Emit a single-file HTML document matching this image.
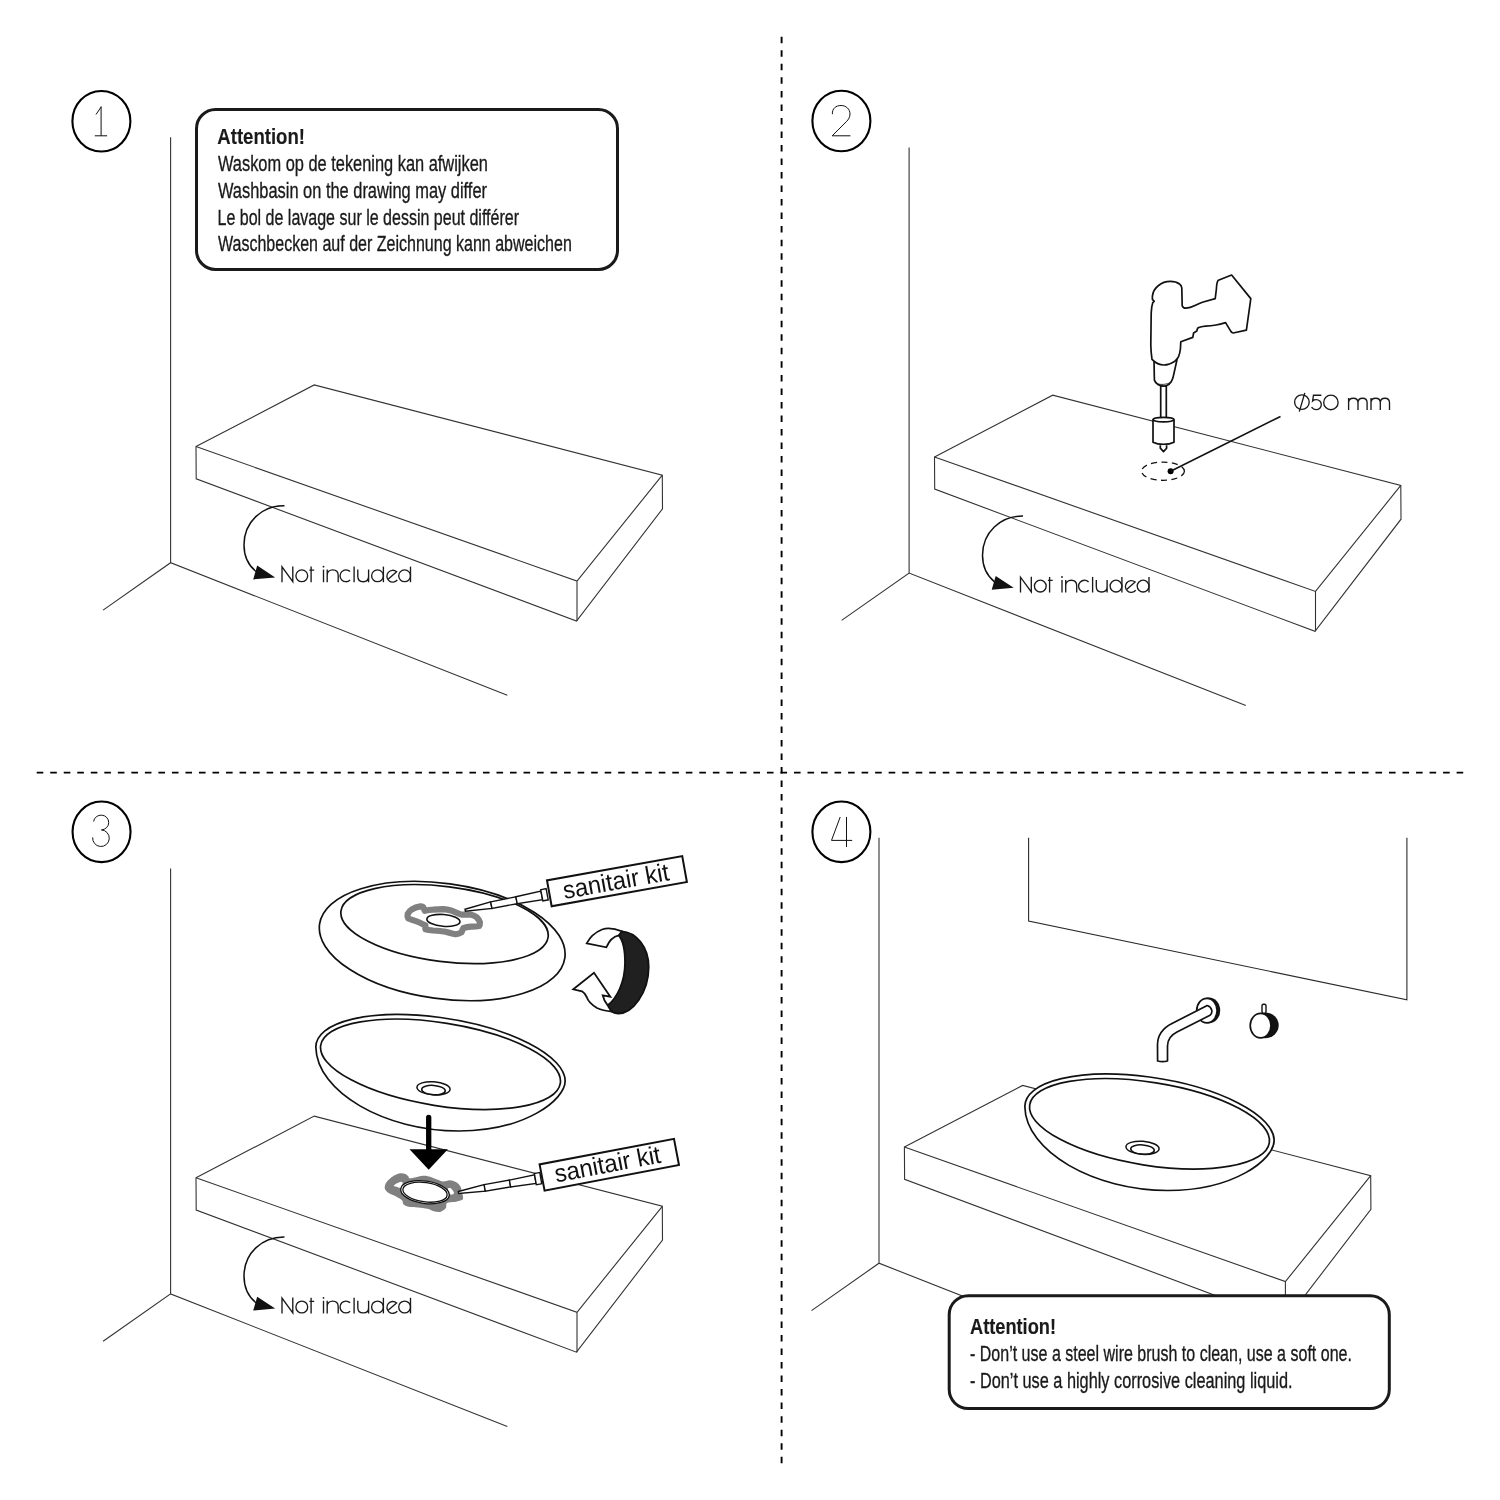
<!DOCTYPE html>
<html><head><meta charset="utf-8">
<style>
html,body{margin:0;padding:0;background:#fff;}
body{width:1500px;height:1500px;overflow:hidden;}
svg{display:block;filter:grayscale(1);}
text{font-family:"Liberation Sans",sans-serif;}
</style></head>
<body>
<svg width="1500" height="1500" viewBox="0 0 1500 1500">
<defs>
 <g id="base" fill="none" stroke="#333" stroke-width="1.1">
  <path d="M170.6,137.3V562.7M103.1,610.1L170.6,562.7L507.3,695.2"/>
  <path fill="#fff" d="M196,446.6L314.2,384.9L662.3,475.1L662.5,508.9L576.5,621L196.2,478.8Z"/>
  <path d="M196,446.6L577,581.1L662.3,475.1M577,581.1V621"/>
 </g>
 <g id="ni">
  <path d="M284.5,505.8C262,505.5 244,522 244,545C244,556 248,565 256,571.5" fill="none" stroke="#111" stroke-width="1.5"/>
  <path d="M257.2,565.6L253.2,579.4L275.2,577.4Z" fill="#111"/>
  <g fill="none" stroke="#1a1a1a" stroke-width="1.35">
   <path d="M282,582.2V566.9L292.8,581.7V566.4"/>
   <circle cx="301.8" cy="575.8" r="5.9"/>
   <path d="M311.1,566.6V582.2M309.4,570.1H314.2"/>
   <path d="M323.5,569.6V582.2"/>
   <path d="M327.2,582.2V569.6M327.2,575.3C327.2,572 329.6,569.9 332.7,569.9C335.9,569.9 338.2,572 338.2,575.5V582.2"/>
   <path d="M350.1,571.6A5.9,5.9 0 1 0 350.1,580"/>
   <path d="M354.1,566.6V582.2"/>
   <path d="M357.8,569.6V576.2C357.8,579.5 360,581.7 363.2,581.7C366.5,581.7 368.6,579.5 368.6,576.2M368.6,569.6V582.2"/>
   <circle cx="377.5" cy="575.8" r="5.9"/>
   <path d="M383.4,566.6V582.2"/>
   <path d="M388.4,578.9L396.6,571.7A5.9,5.9 0 1 0 397.3,580"/>
   <circle cx="404.6" cy="575.8" r="5.9"/>
   <path d="M410.5,566.6V582.2"/>
  </g>
  <circle cx="323.5" cy="566.7" r="0.9" fill="#1a1a1a"/>
 </g>
 <g id="basin" stroke="#111" stroke-width="1.7">
  <path d="M315.84,1046.95A126,46 9 0 1 565.16,1081.05C565,1100 525,1131 459,1131C385,1131 316.5,1092 315.84,1046.95Z" fill="#fff"/>
  <ellipse cx="440.5" cy="1064.3" rx="121.3" ry="41.5" transform="rotate(9 440.5 1064.3)" fill="none"/>
  <ellipse cx="433.5" cy="1088.3" rx="16.6" ry="6.5" transform="rotate(4 433.5 1088.3)" fill="none" stroke-width="1.5"/>
  <ellipse cx="433.5" cy="1090.1" rx="11.8" ry="4.7" transform="rotate(4 433.5 1090.1)" fill="none" stroke-width="1.5"/>
 </g>
 <g id="nozzle" fill="#fff" stroke="#111" stroke-width="1.4" stroke-linejoin="miter">
  <path d="M0,-1L26.6,-3.3V3.3L0,1Z"/>
  <path d="M26.6,-3.3L52.3,-3.5V3.5L26.6,3.3Z"/>
  <path d="M52.3,-3.5L78,-4.4V4.4L52.3,3.5Z"/>
  <path d="M78,-5.7H83.5V5.7H78Z"/>
 </g>
 <g id="circ" fill="none" stroke="#000" stroke-width="2.1">
  <ellipse cx="0" cy="0" rx="29" ry="30.3"/>
 </g>
</defs>

<!-- dashed separators -->
<g stroke="#000" stroke-width="1.9" fill="none">
 <path d="M781.6,36.8V1463.3" stroke-dasharray="6.5 7.023"/>
 <path d="M36.7,772.6H1463.6" stroke-dasharray="6.6 6.923"/>
</g>

<!-- ================= PANEL 1 ================= -->
<use href="#base"/>
<use href="#ni"/>
<use href="#circ" x="101.4" y="121.25"/>
<path d="M101.1,106.4V135.8M101.1,107L96,114.5M94.8,135.8H107.1" fill="none" stroke="#111" stroke-width="1"/>
<rect x="196.5" y="109.5" width="421" height="160" rx="19" ry="19" fill="#fff" stroke="#1a1a1a" stroke-width="3"/>
<g fill="#1a1a1a" font-size="22.6" stroke="#1a1a1a" stroke-width="0.35">
 <text x="217.3" y="143.8" font-weight="bold" stroke-width="0.15" textLength="87.7" lengthAdjust="spacingAndGlyphs">Attention!</text>
 <text x="218" y="170.8" textLength="269.9" lengthAdjust="spacingAndGlyphs">Waskom op de tekening kan afwijken</text>
 <text x="218" y="197.7" textLength="269" lengthAdjust="spacingAndGlyphs">Washbasin on the drawing may differ</text>
 <text x="217.5" y="224.5" textLength="301.5" lengthAdjust="spacingAndGlyphs">Le bol de lavage sur le dessin peut différer</text>
 <text x="218" y="251.4" textLength="353.8" lengthAdjust="spacingAndGlyphs">Waschbecken auf der Zeichnung kann abweichen</text>
</g>

<!-- ================= PANEL 2 ================= -->
<g transform="translate(738.5,10.3)">
 <use href="#base"/>
 <use href="#ni"/>
</g>
<use href="#circ" x="841.4" y="121"/>
<path d="M832.4,114.2C832,108.5 836,105.5 841,105.5C846,105.5 850,109 850,114C850,117 848.5,119.5 846.5,121.5L832.2,135.8H850.4" fill="none" stroke="#111" stroke-width="1"/>
<!-- dashed hole -->
<ellipse cx="1163" cy="471.2" rx="21.4" ry="9.1" fill="none" stroke="#111" stroke-width="1.3" stroke-dasharray="6 4.4"/>
<circle cx="1170.6" cy="471.2" r="3" fill="#000"/>
<path d="M1170.6,471.2L1280.5,416.5" stroke="#111" stroke-width="1.6"/>
<g fill="none" stroke="#1a1a1a" stroke-width="1.35">
 <circle cx="1301.9" cy="402.1" r="7.3"/>
 <path d="M1299.3,411.6L1304.8,392.9"/>
 <path d="M1321.4,395.2H1313.5L1312.6,400.9C1313.5,400.1 1314.8,399.6 1316.2,399.6C1319,399.6 1321.3,401.8 1321.3,404.6C1321.3,407.4 1319,409.6 1316.2,409.6C1314.2,409.6 1312.5,408.5 1311.6,407"/>
 <ellipse cx="1330.9" cy="402.4" rx="7.2" ry="7.35"/>
 <path d="M1348.6,410.1V398M1348.6,402.8C1348.6,400 1350.6,398.2 1353.3,398.2C1356,398.2 1358,400 1358,402.8V410.1M1358,402.8C1358,400 1360,398.2 1362.6,398.2C1365.2,398.2 1367.1,400 1367.1,402.8V410.1"/>
 <path d="M1371,410.1V398M1371,402.8C1371,400 1373,398.2 1375.7,398.2C1378.4,398.2 1380.3,400 1380.3,402.8V410.1M1380.3,402.8C1380.3,400 1382.3,398.2 1384.9,398.2C1387.5,398.2 1389.5,400 1389.5,402.8V410.1"/>
</g>
<!-- drill -->
<g fill="#fff" stroke="#111" stroke-width="1.7" stroke-linejoin="round">
 <path d="M1160.7,386V418.5H1166.3V386Z"/>
 <path d="M1154,360.6L1154.4,380.2C1156,384 1159,386 1163.8,386.2C1168,386 1171,384 1172.9,378.1L1177.1,359.2Z"/>
 <path d="M1154.7,382.3C1157,384 1160,384.6 1163.1,384.4C1166,384.3 1169,383.3 1171.5,382" fill="none" stroke-width="0.8"/>
 <path d="M1152.4,296.2C1153,291 1156,287.4 1158.5,285.5C1162,282.5 1166,281.4 1170.4,281.4C1174,281.4 1177.6,282.6 1179.5,284C1181,285 1181.6,285.8 1181.8,288L1182.2,305.8C1183,307.6 1184.5,308.2 1186,308.2C1189,308 1192,307 1195,305.5C1198,304 1200,303 1202.4,302.2L1215.2,298.6L1216.4,289C1216.6,284 1217,281.5 1218.4,280.2L1231.6,275L1250.8,298.6L1246.4,330.2L1233.2,333C1232,332.8 1231,332 1230.4,330.6L1225.6,322.6C1222,323.7 1219,324.5 1216,325C1212,325.6 1208,326 1205.6,326.2C1202,326.6 1199,327.2 1197.6,328.2L1196.8,331L1193.6,333L1192.8,337.4L1180.8,341.8L1180.4,349C1180,353 1179,355.5 1178.4,357C1177,359 1176,360 1175.2,361C1171,363.8 1168,365 1164,365C1160,365 1155,362.5 1152,359.4C1151.2,354 1150.9,350 1150.8,345L1151.2,313C1151.4,308 1152,305 1152.8,302.6L1154.2,301.4L1152.4,299.4Z"/>
 <path d="M1153,420V442.2C1156,443.8 1159.5,444.4 1163.5,444.4C1167.5,444.4 1171,443.8 1174,442.2V420Z"/>
 <ellipse cx="1163.5" cy="419.6" rx="10.5" ry="2.3"/>
 <path d="M1160.3,445.2V448.2L1163.5,451.6L1166.6,448.2V445.2"/>
</g>

<!-- ================= PANEL 3 ================= -->
<g transform="translate(0,731.2)">
 <use href="#base"/>
 <use href="#ni"/>
</g>
<use href="#circ" x="101.55" y="831.85"/>
<path d="M93.6,821.5A7.6,7.4 0 1 1 101.4,829.9A8.3,8.3 0 1 1 92.7,837.4" fill="none" stroke="#111" stroke-width="1"/>

<!-- upside-down basin -->
<ellipse cx="442.2" cy="941" rx="123.8" ry="57.7" transform="rotate(7.8 442.2 941)" fill="#fff" stroke="#111" stroke-width="1.7"/>
<ellipse cx="444.55" cy="924.1" rx="104.4" ry="37.6" transform="rotate(7.1 444.55 924.1)" fill="#fff" stroke="#111" stroke-width="1.7"/>
<path d="M407.7,914C409,911.5 410,910.5 411.5,909.6C414,908 417,906.8 420.3,906.4C422,906.5 423.3,907 423.5,907.7L424.8,910.8C428,910 430,909.7 433,909.6C437,909.3 440,909.2 443.1,909.2C446,909.4 449,910 452,910.8C455,912 458,913.5 461.5,914.6C465,914.8 468,914.5 471,914.6C473,915.2 475,916 476.7,917.2C478.5,919 479.5,920.5 479.9,922.2C480,924 479.8,925.4 479.2,926C476,926.6 473.5,926.6 471,926.7C468,927 466,927.3 463.4,927.9C462.5,929.5 462,931 461.5,932.4C459.5,933.5 458,934 455.8,934.3C452,933.7 449,932.5 445.7,931.7C441,930.8 437,930.6 433,930.5C430,930.2 427.5,929.8 425.4,929.2L425.4,925.4C422,923.8 420,922.6 417.2,921.6C414,920.5 411,919.5 408.3,918.4C407.5,917 407.3,915.5 407.7,914Z" fill="none" stroke="#808080" stroke-width="6.2" stroke-linejoin="round"/>
<ellipse cx="443.4" cy="920.4" rx="16.6" ry="5.9" transform="rotate(5 443.4 920.4)" fill="#fff" stroke="#111" stroke-width="1.6"/>
<use href="#nozzle" transform="translate(465.2,910.2) rotate(-11)"/>
<g transform="translate(547,880.4) rotate(-10.19)">
 <rect x="0" y="0" width="137.4" height="26.3" fill="#fff" stroke="#111" stroke-width="2"/>
 <text x="13.9" y="21.4" font-size="25" textLength="107.5" lengthAdjust="spacingAndGlyphs" fill="#111">sanitair kit</text>
</g>

<!-- rotation arrow -->
<g stroke="#111" stroke-width="1.8" stroke-linejoin="miter">
 <path d="M621.5,931.3C636,932 648.7,947 648.7,967C648.7,993 632,1014 618,1013.5C612,1013.3 609,1010 607.7,1005.3C617,998 625,982 625,962.7C625,949 622,939 618.7,935.3Z" fill="#231f20"/>
 <path d="M586.7,943.3C590,937 596,932 602,929.5C607,927.8 612,927.5 622,931.3L618.7,935.3C613,936.5 609,941 606.3,947.3Z" fill="#fff"/>
 <path d="M573.3,989.3L594,972.7L610.3,996.7L602.7,995.3C603.5,999 605.3,1002.5 607.7,1005.3C609,1008 610.5,1010 612,1011.5C605,1011 600,1009.5 597,1008C592,1005 588,1001 586.7,997C585.5,994.5 584,992.5 582,991.3Z" fill="#fff"/>
</g>

<!-- lower basin + arrow -->
<use href="#basin"/>
<path d="M428.7,1117.5V1150" stroke="#000" stroke-width="5.3" stroke-linecap="round"/>
<path d="M409.5,1149.2H447.9L428.7,1169.7Z" fill="#000"/>

<!-- sealant on shelf -->
<path d="M384.8,1186.5C385.0,1185.0 385.7,1183.2 387.0,1181.5C388.3,1179.8 390.7,1177.7 392.7,1176.4C394.7,1175.1 396.9,1174.0 399.0,1173.5C401.1,1173.1 403.7,1173.4 405.3,1173.9C406.9,1174.4 407.8,1175.7 408.5,1176.4C409.2,1177.1 408.2,1178.2 409.8,1178.3C411.4,1178.3 415.6,1177.1 418.0,1176.7C420.4,1176.3 422.2,1175.8 424.3,1175.8C426.4,1175.8 428.5,1176.4 430.7,1177.0C432.8,1177.6 434.9,1178.8 437.0,1179.6C439.1,1180.3 441.2,1181.4 443.3,1181.5C445.4,1181.6 447.5,1180.1 449.7,1180.2C451.8,1180.3 454.2,1181.0 456.0,1182.1C457.8,1183.1 459.5,1184.9 460.4,1186.5C461.4,1188.1 461.3,1189.9 461.7,1191.6C462.1,1193.3 462.9,1195.3 463.0,1196.7C463.1,1198.1 463.5,1199.0 462.3,1199.8C461.2,1200.6 458.5,1201.2 456.0,1201.7C453.5,1202.2 448.8,1201.9 447.1,1203.0C445.4,1204.1 447.0,1206.6 445.9,1208.1C444.7,1209.6 442.2,1211.4 440.2,1211.9C438.2,1212.4 435.9,1211.7 433.8,1211.2C431.7,1210.7 430.1,1209.3 427.5,1208.7C424.9,1208.1 421.2,1207.7 418.0,1207.4C414.8,1207.1 410.9,1207.3 408.5,1206.8C406.1,1206.3 404.5,1205.3 403.4,1204.3C402.4,1203.2 403.3,1201.8 402.2,1200.5C401.0,1199.2 398.6,1197.9 396.5,1196.7C394.4,1195.5 391.3,1194.6 389.5,1193.5C387.7,1192.4 386.5,1191.5 385.7,1190.3C384.9,1189.1 384.5,1188.0 384.8,1186.5Z" fill="#808080"/>
<path d="M393.9,1185.3C394.6,1184.5 399.4,1182.0 400.9,1181.8C402.4,1181.6 402.8,1183.0 402.8,1184.0C402.8,1185.0 401.9,1187.3 400.9,1187.8C399.8,1188.3 397.7,1187.2 396.5,1186.8C395.3,1186.4 393.2,1186.1 393.9,1185.3Z M447.8,1189.1C447.9,1188.1 449.8,1187.8 450.9,1188.4C451.9,1189.0 454.2,1191.9 454.1,1192.9C454.0,1193.9 451.4,1195.0 450.3,1194.4C449.2,1193.8 447.7,1190.1 447.8,1189.1Z" fill="#fff"/>
<ellipse cx="425" cy="1192.2" rx="24.5" ry="11.2" transform="rotate(8 425 1192.2)" fill="#fff" stroke="#111" stroke-width="1.3"/>
<ellipse cx="425" cy="1192.2" rx="22.3" ry="9.6" transform="rotate(8 425 1192.2)" fill="none" stroke="#111" stroke-width="1.3"/>
<use href="#nozzle" transform="translate(458.5,1192.5) rotate(-9.9)"/>
<g transform="translate(539.6,1164.4) rotate(-10.78)">
 <rect x="0" y="0" width="136.8" height="26.7" fill="#fff" stroke="#111" stroke-width="2"/>
 <text x="13" y="20.9" font-size="25" textLength="107.5" lengthAdjust="spacingAndGlyphs" fill="#111">sanitair kit</text>
</g>

<!-- ================= PANEL 4 ================= -->
<g transform="translate(708.4,700.5)">
 <use href="#base"/>
</g>
<use href="#circ" x="841.4" y="831.85"/>
<path d="M846.5,817V847M840.2,817L831.5,840.4H852.2" fill="none" stroke="#111" stroke-width="1"/>
<!-- mirror -->
<path d="M1028.6,837.8V921.1L1406.9,999.9V837.8" fill="none" stroke="#2b2b2b" stroke-width="1.1"/>
<!-- faucet -->
<ellipse cx="1208.8" cy="1010.4" rx="11.4" ry="12.9" fill="#111"/>
<ellipse cx="1206.9" cy="1010.6" rx="10.2" ry="12.3" fill="#fff" stroke="#111" stroke-width="1.7"/>
<path d="M1207.2,1005.5L1172,1023.5C1162,1028.5 1157.5,1036 1157.5,1045L1157.6,1061Q1162.5,1062.3 1167.5,1061L1167.5,1046C1167.5,1040 1171,1035 1177,1032L1210,1015.3C1213,1013 1212.5,1007 1207.2,1005.5Z" fill="#fff" stroke="#111" stroke-width="1.7" stroke-linejoin="round"/>
<!-- knob -->
<ellipse cx="1265.3" cy="1025.3" rx="13.4" ry="12.9" fill="#111"/>
<ellipse cx="1260.6" cy="1025.6" rx="10.4" ry="12.2" fill="#fff" stroke="#111" stroke-width="1.7"/>
<rect x="1262" y="1004.2" width="4" height="9" rx="1.5" fill="#fff" stroke="#111" stroke-width="1.4"/>
<!-- basin -->
<use href="#basin" transform="translate(709,59.5)"/>
<!-- attention box 2 -->
<rect x="949.2" y="1295.7" width="440.1" height="112.9" rx="19" ry="19" fill="#fff" stroke="#1a1a1a" stroke-width="3"/>
<g fill="#1a1a1a" font-size="22.6" stroke="#1a1a1a" stroke-width="0.35">
 <text x="970" y="1334" font-weight="bold" stroke-width="0.15" textLength="86" lengthAdjust="spacingAndGlyphs">Attention!</text>
 <text x="970" y="1360.8" textLength="381.9" lengthAdjust="spacingAndGlyphs">- Don’t use a steel wire brush to clean, use a soft one.</text>
 <text x="970" y="1387.7" textLength="322.5" lengthAdjust="spacingAndGlyphs">- Don’t use a highly corrosive cleaning liquid.</text>
</g>
</svg>
</body></html>
